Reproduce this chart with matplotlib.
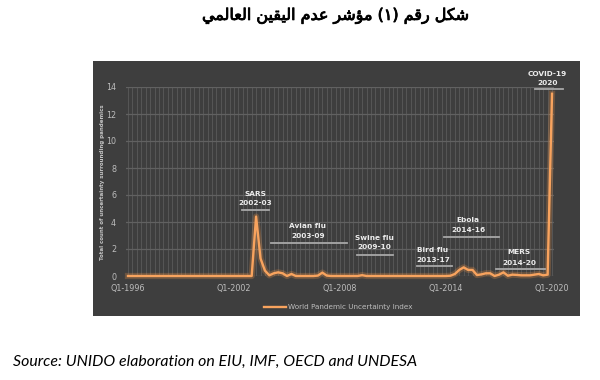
import matplotlib
matplotlib.use("Agg")
import matplotlib.pyplot as plt
import matplotlib.patheffects as pe
from matplotlib.ticker import MultipleLocator, FixedLocator

# ---------------- data ----------------
tick_labels = ["Q1-1996", "Q1-2002", "Q1-2008", "Q1-2014", "Q1-2020"]
tick_quarters = [0, 24, 48, 72, 96]          # quarter index since Q1-1996

# World Pandemic Uncertainty Index, quarterly Q1-1996 .. Q1-2020
wpui = ([0.0] * 29 +                          # Q1-1996 .. Q1-2003
        [4.4, 1.3, 0.4, 0.05, 0.2, 0.27, 0.2, 0.0, 0.15, 0.0,
         0.0, 0.0, 0.0, 0.0, 0.03, 0.25, 0.03] +
        [0.0] * 7 +
        [0.06] +
        [0.0] * 19 +
        [0.02, 0.15, 0.45, 0.64, 0.45, 0.45, 0.07, 0.12, 0.2, 0.2,
         0.0, 0.1, 0.27, 0.02, 0.1, 0.08, 0.05, 0.05, 0.05, 0.1,
         0.15, 0.05, 0.1, 13.5])
quarters = list(range(len(wpui)))

events = ["SARS", "Avian flu", "Swine flu", "Bird flu", "Ebola", "MERS", "COVID-19"]
event_years = ["2002-03", "2003-09", "2009-10", "2013-17", "2014-16", "2014-20", "2020"]

title_ar = "شكل رقم (١) مؤشر عدم اليقين العالمي"
source_txt = "Source: UNIDO elaboration on EIU, IMF, OECD and UNDESA"
ylabel_txt = "Total count of uncertainty surrounding pandemics"
legend_txt = "World Pandemic Uncertainty Index"

# ---------------- Arabic shaping (presentation forms) ----------------
FORMS = {
    'ا': (0xFE8D, 0xFE8E, None, None),
    'ؤ': (0xFE85, 0xFE86, None, None),
    'د': (0xFEA9, 0xFEAA, None, None),
    'ر': (0xFEAD, 0xFEAE, None, None),
    'ش': (0xFEB5, 0xFEB6, 0xFEB7, 0xFEB8),
    'ع': (0xFEC9, 0xFECA, 0xFECB, 0xFECC),
    'ق': (0xFED5, 0xFED6, 0xFED7, 0xFED8),
    'ك': (0xFED9, 0xFEDA, 0xFEDB, 0xFEDC),
    'ل': (0xFEDD, 0xFEDE, 0xFEDF, 0xFEE0),
    'م': (0xFEE1, 0xFEE2, 0xFEE3, 0xFEE4),
    'ن': (0xFEE5, 0xFEE6, 0xFEE7, 0xFEE8),
    'ي': (0xFEF1, 0xFEF2, 0xFEF3, 0xFEF4),
}


def shape_rtl(s):
    out = []
    for i, ch in enumerate(s):
        if ch not in FORMS:
            out.append(ch)
            continue
        prev = s[i - 1] if i > 0 else ''
        nxt = s[i + 1] if i + 1 < len(s) else ''
        jp = prev in FORMS and FORMS[prev][2] is not None
        jn = FORMS[ch][2] is not None and nxt in FORMS
        iso, fin, ini, med = FORMS[ch]
        if jp and jn:
            code = med
        elif jp:
            code = fin
        elif jn:
            code = ini
        else:
            code = iso
        out.append(chr(code))
    vis = ''.join(reversed(out))
    return vis.translate(str.maketrans({'(': ')', ')': '('}))


# ---------------- layout ----------------
W, H = 600, 380
fig = plt.figure(figsize=(6, 3.8), dpi=100)
fig.patch.set_facecolor("white")

panel_col = "#3e3e3e"
bg = fig.add_axes([93 / W, 1 - 316 / H, (580 - 93) / W, (316 - 61) / H], zorder=-5)
bg.set_facecolor(panel_col)
bg.set_xticks([])
bg.set_yticks([])
for s in bg.spines.values():
    s.set_visible(False)

x_per_q = 4.417
ax_left = 128 - 0.5 * x_per_q
ax_w = 97 * x_per_q
ax = fig.add_axes([ax_left / W, 1 - 276 / H, ax_w / W, (276 - 87) / H], zorder=1)
ax.set_facecolor(panel_col)
ax.set_xlim(-0.5, 96.5)
ax.set_ylim(0, 14)
for s in ax.spines.values():
    s.set_visible(False)

ax.yaxis.set_major_locator(MultipleLocator(2))
ax.xaxis.set_major_locator(FixedLocator(tick_quarters))
ax.set_xticklabels(tick_labels)
ax.xaxis.set_minor_locator(MultipleLocator(1))
ax.grid(True, which="major", axis="y", color="#616161", linewidth=0.9)
ax.grid(True, which="both", axis="x", color="#5a5a5a", linewidth=0.6)
ax.set_axisbelow(True)
ax.tick_params(which="both", length=0, colors="#bdbdbd", labelsize=5.8)
ax.tick_params(axis="x", pad=6)
ax.tick_params(axis="y", pad=7)

# line with glow
ax.plot(quarters, wpui, color="#f79646", linewidth=4.5, alpha=0.25,
        solid_joinstyle="round", clip_on=False)
ax.plot(quarters, wpui, color="#f8a35e", linewidth=1.7,
        solid_joinstyle="round", label=legend_txt, clip_on=False)

# annotations: (center quarter, name y, year y, bar x0, bar x1, bar y)
ann_pos = [
    (28.75, 6.05, 5.4, 25.8, 31.9, 4.9),
    (40.75, 3.68, 2.96, 32.4, 49.6, 2.44),
    (55.7, 2.8, 2.15, 51.8, 60.0, 1.56),
    (69.05, 1.9, 1.19, 65.4, 73.4, 0.74),
    (77.0, 4.12, 3.41, 71.5, 84.0, 2.89),
    (88.5, 1.75, 0.96, 83.3, 94.4, 0.52),
    (94.9, 15.0, 14.3, 92.1, 98.5, 13.85),
]
for name, yr, (xc, yn, yy, x0, x1, yb) in zip(events, event_years, ann_pos):
    ax.text(xc, yn, name, ha="center", va="center", fontsize=5.3,
            fontweight="bold", color="#ececec", clip_on=False)
    ax.text(xc, yy, yr, ha="center", va="center", fontsize=5.3,
            fontweight="bold", color="#ececec", clip_on=False)
    ax.plot([x0, x1], [yb, yb], color="#a8a8a8", linewidth=1.3, clip_on=False)

fig.text(102 / W, 1 - 182 / H, ylabel_txt, rotation=90, ha="center", va="center",
         fontsize=4.0, fontweight="bold", color="#c4c4c4", zorder=3)

leg = fig.legend(loc="center", bbox_to_anchor=(338 / W, 1 - 307 / H), frameon=False,
                 fontsize=5.2, handlelength=3.0, handletextpad=0.3, labelcolor="#bdbdbd")

fig.text(336 / W, 1 - 16 / H, shape_rtl(title_ar), ha="center", va="center",
         fontsize=11.5, family=["DejaVu Sans"], color="black",
         path_effects=[pe.withStroke(linewidth=0.6, foreground="black")])

fig.text(13 / W, 1 - 362 / H, source_txt, ha="left", va="center",
         fontsize=11.4, style="italic", family=["Lato", "DejaVu Sans"], color="black")

fig.savefig("out.png", dpi=100, facecolor="white")
